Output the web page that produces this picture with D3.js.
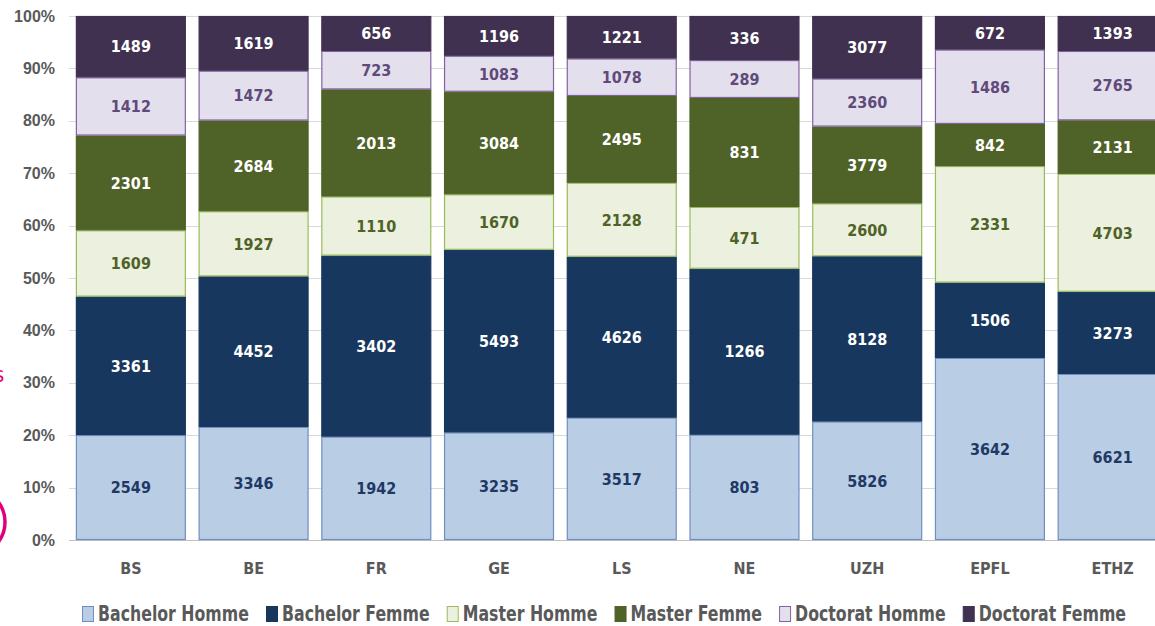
<!DOCTYPE html>
<html>
<head>
<meta charset="utf-8">
<script src="https://cdn.jsdelivr.net/npm/d3@7"></script>
<style>
  body { margin: 0; background: #fff; }
  svg { display: block; font-family: "Liberation Sans Narrow", "DejaVu Sans Condensed", "Roboto Condensed", sans-serif; }
</style>
</head>
<body>
<svg id="chart" width="1155" height="626"></svg>
<script>
// universities
var universities = ["BS", "BE", "FR", "GE", "LS", "NE", "UZH", "EPFL", "ETHZ"];
var series = ["Bachelor Homme", "Bachelor Femme", "Master Homme", "Master Femme", "Doctorat Homme", "Doctorat Femme"];

// counts per series, in university order
var bachelorHomme = [2549, 3346, 1942, 3235, 3517, 803, 5826, 3642, 6621];
var bachelorFemme = [3361, 4452, 3402, 5493, 4626, 1266, 8128, 1506, 3273];
var masterHomme   = [1609, 1927, 1110, 1670, 2128, 471, 2600, 2331, 4703];
var masterFemme   = [2301, 2684, 2013, 3084, 2495, 831, 3779, 842, 2131];
var doctoratHomme = [1412, 1472, 723, 1083, 1078, 289, 2360, 1486, 2765];
var doctoratFemme = [1489, 1619, 656, 1196, 1221, 336, 3077, 672, 1393];

var yTicks = [0, 0.1, 0.2, 0.3, 0.4, 0.5, 0.6, 0.7, 0.8, 0.9, 1.0];

var fills   = ["#b9cde5", "#17375e", "#ebf1de", "#4f6228", "#e4dfec", "#403151"];
var strokes = ["#6f8fbf", "#17375e", "#9bbb59", "#4f6228", "#8064a2", "#403151"];
var inks    = ["#1f3864", "#ffffff", "#4f6228", "#ffffff", "#604a7b", "#ffffff"];

var svg = d3.select("#chart"),
    width = +svg.attr("width"),
    height = +svg.attr("height");

// build rows for the stack
var allSeries = [bachelorHomme, bachelorFemme, masterHomme, masterFemme, doctoratHomme, doctoratFemme];
var rows = universities.map(function(u, i) {
  var row = { uni: u };
  series.forEach(function(s, j) { row[s] = allSeries[j][i]; });
  return row;
});

var stacked = d3.stack().keys(series).offset(d3.stackOffsetExpand)(rows);

var x = d3.scaleBand()
    .domain(universities)
    .range([69.5, 1174])
    .paddingInner(0.104)
    .paddingOuter(0.052);

var y = d3.scaleLinear()
    .domain([0, 1])
    .range([540, 16]);

// cropped bits of the slide on the left edge
svg.append("circle")
    .attr("cx", -28).attr("cy", 522).attr("r", 33)
    .attr("fill", "none").attr("stroke", "#e2007a").attr("stroke-width", 3.5);
svg.append("text")
    .attr("x", -6).attr("y", 382)
    .attr("fill", "#e2007a").attr("font-size", 22)
    .text("s");

// gridlines
svg.append("g")
  .selectAll("line")
  .data(yTicks)
  .enter()
  .append("line")
    .attr("x1", 69)
    .attr("x2", width)
    .attr("y1", d => Math.round(y(d)) + 0.5)
    .attr("y2", d => Math.round(y(d)) + 0.5)
    .attr("stroke", d => d === 0 ? "#bfbfbf" : "#d9d9d9")
    .attr("stroke-width", 1);

// y axis labels
var yAxis = d3.axisLeft(y)
    .tickValues(yTicks)
    .tickFormat(d3.format(".0%"))
    .tickSize(0)
    .tickPadding(0);

svg.append("g")
    .attr("transform", "translate(55,0)")
    .call(yAxis)
    .call(g => g.select(".domain").remove())
    .selectAll("text")
      .attr("font-family", null)
      .attr("font-size", 16)
      .attr("font-weight", "bold")
      .attr("fill", "#595959");

// bars
var layers = svg.append("g")
  .selectAll("g")
  .data(stacked)
  .enter()
  .append("g");

layers.selectAll("rect")
  .data(function(d) { return d.map(function(v) { return { key: d.key, idx: d.index, v: v }; }); })
  .enter()
  .append("rect")
    .attr("x", d => x(d.v.data.uni) + 0.5)
    .attr("width", x.bandwidth() - 1)
    .attr("y", d => y(d.v[1]) + 0.5)
    .attr("height", d => Math.max(0, y(d.v[0]) - y(d.v[1]) - 1))
    .attr("fill", d => fills[d.idx])
    .attr("stroke", d => strokes[d.idx])
    .attr("stroke-width", 1.2);

layers.selectAll("text")
  .data(function(d) { return d.map(function(v) { return { key: d.key, idx: d.index, v: v }; }); })
  .enter()
  .append("text")
    .attr("x", d => x(d.v.data.uni) + x.bandwidth() / 2)
    .attr("y", d => (y(d.v[0]) + y(d.v[1])) / 2)
    .attr("dy", "0.36em")
    .attr("text-anchor", "middle")
    .attr("font-size", 16)
    .attr("font-weight", "bold")
    .attr("fill", d => inks[d.idx])
    .text(d => d.v.data[d.key]);

// x labels
svg.append("g")
  .selectAll("text")
  .data(universities)
  .enter()
  .append("text")
    .attr("x", d => x(d) + x.bandwidth() / 2)
    .attr("y", 574)
    .attr("text-anchor", "middle")
    .attr("font-size", 16)
    .attr("font-weight", "bold")
    .attr("fill", "#595959")
    .text(d => d);

// legend (bold text squeezed to mimic the narrow slide font)
var legend = svg.append("g").attr("transform", "translate(0,621)");
var cursor = 82;
var squeeze = null;
series.forEach(function(s, i) {
  var item = legend.append("g").attr("transform", "translate(" + cursor + ",0)");
  item.append("rect")
      .attr("x", 0.5).attr("y", -14.5)
      .attr("width", 11).attr("height", 15)
      .attr("fill", fills[i])
      .attr("stroke", strokes[i]);
  var t = item.append("text")
      .attr("font-size", 22)
      .attr("font-weight", "bold")
      .attr("fill", "#595959")
      .text(s);
  var len = t.node().getComputedTextLength();
  if (squeeze === null) squeeze = 151 / len; // first label spans ~151px on the slide
  t.attr("transform", "translate(16,0) scale(" + squeeze + ",1)");
  cursor += 16 + len * squeeze + 17;
});
</script>
</body>
</html>
